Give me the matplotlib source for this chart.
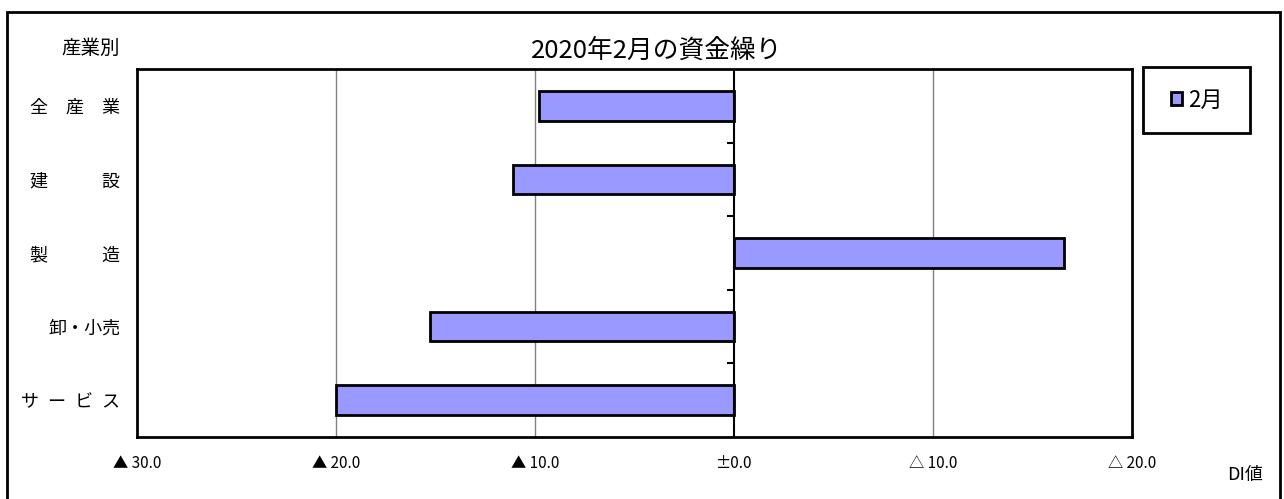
import matplotlib
matplotlib.use("Agg")
import matplotlib.pyplot as plt
from matplotlib.patches import Rectangle
import numpy as np

plt.rcParams['font.family'] = ['Noto Sans CJK JP', 'DejaVu Sans']

# data
categories = ["全\u3000産\u3000業", "建\u3000\u3000\u3000設", "製\u3000\u3000\u3000造", "卸・小売", "サ\u2002ー\u2002ビ\u2002ス"]
values = [-9.8, -11.1, 16.6, -15.3, -20.0]
xticks = [-30, -20, -10, 0, 10, 20]
xticklabels = ["▲ 30.0", "▲ 20.0", "▲ 10.0", "±0.0", "△ 10.0", "△ 20.0"]
series_name = "2月"
title = "2020年2月の資金繰り"

W, H = 1284, 499
fig = plt.figure(figsize=(W / 100, H / 100), dpi=100)

# outer frame (bottom edge runs off the picture)
fig.patches.append(Rectangle((7 / W, -0.05), (1280 - 7) / W, 1.05 - 12 / H,
                             transform=fig.transFigure, fill=False,
                             edgecolor="black", lw=2))
# legend frame
fig.patches.append(Rectangle((1143 / W, 1 - 133 / H), (1250 - 1143) / W, (133 - 67) / H,
                             transform=fig.transFigure, fill=False,
                             edgecolor="black", lw=2))

ax = fig.add_axes([137 / W, 1 - 437 / H, (1132 - 137) / W, (437 - 69) / H])

y = np.arange(len(categories))
bars = ax.barh(y, values, height=0.4, color="#9999FF", edgecolor="black",
               linewidth=2, zorder=3, label=series_name)

ax.set_xlim(-30, 20)
ax.set_ylim(len(categories) - 0.5, -0.5)

# vertical gridlines
for t in xticks[1:-1]:
    if t != 0:
        ax.axvline(t, color="#808080", lw=1, zorder=1)
ax.axvline(0, color="black", lw=1.5, zorder=4)

# small ticks on the zero axis between categories
ax.plot([0] * (len(categories) - 1), y[:-1] + 0.5, ls="none",
        marker=0, markersize=5, markeredgewidth=1.5, color="black", zorder=4)

for s in ax.spines.values():
    s.set_linewidth(2)
    s.set_color("black")

ax.set_xticks(xticks)
ax.set_xticklabels(xticklabels, fontsize=11)
ax.tick_params(axis="x", length=0, pad=13)
ax.set_yticks(y)
ax.set_yticklabels(categories, fontsize=13)
ax.tick_params(axis="y", length=0, pad=12)

fig.text(657 / W, 1 - 51 / H, title, fontsize=18.5, ha="center", va="center")
fig.text(120 / W, 1 - 48 / H, "産業別", fontsize=14, ha="right", va="center")
fig.text(1263 / W, 1 - 475 / H, "DI値", fontsize=13, ha="right", va="center")

leg = fig.legend(handles=[bars], labels=[series_name], loc="center",
                 bbox_to_anchor=(1197 / W, 1 - 100 / H), fontsize=16,
                 frameon=False, handlelength=0.5, handleheight=0.5,
                 handletextpad=0.3, borderpad=0, borderaxespad=0)

fig.savefig("out.png", dpi=100)
